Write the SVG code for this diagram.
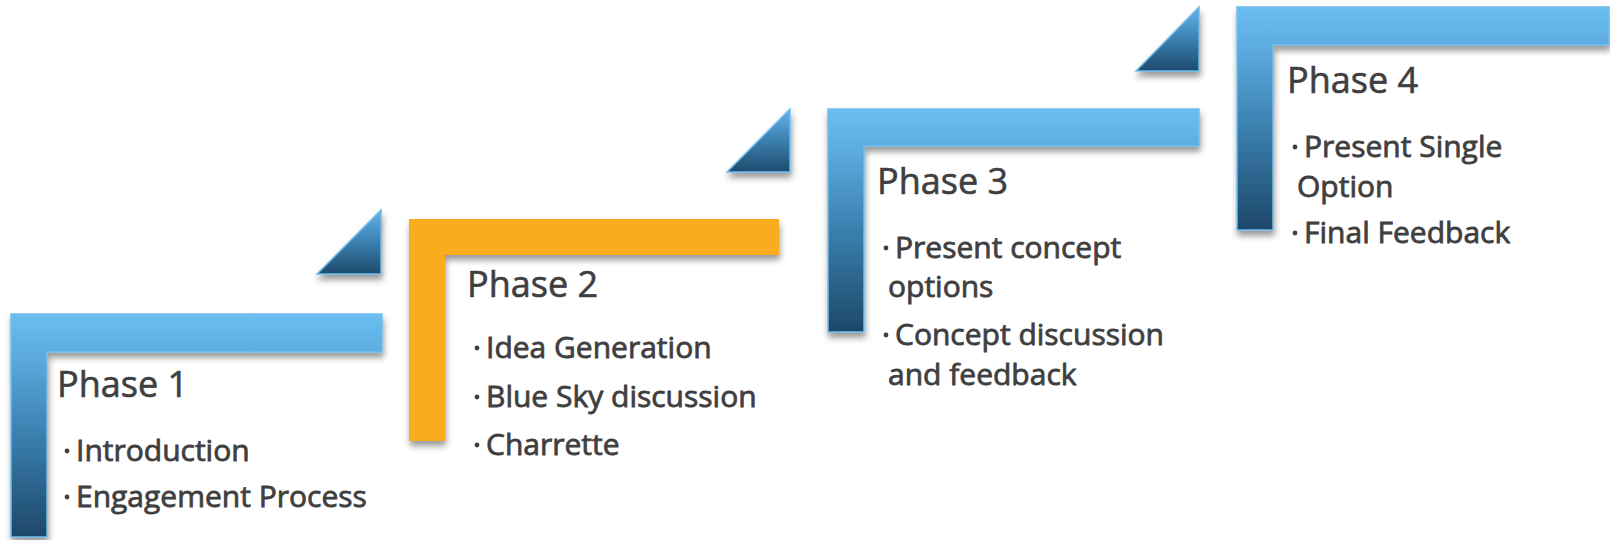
<svg xmlns="http://www.w3.org/2000/svg" width="1610" height="540" viewBox="0 0 1610 540">
  <defs>
    <linearGradient id="blueL" x1="0" y1="0" x2="0" y2="1">
      <stop offset="0" stop-color="#6bbef1"/>
      <stop offset="0.2" stop-color="#5ba9de"/>
      <stop offset="0.55" stop-color="#3a7fae"/>
      <stop offset="1" stop-color="#1d4869"/>
    </linearGradient>
    <linearGradient id="blueTri" x1="0" y1="0" x2="0" y2="1">
      <stop offset="0" stop-color="#63b4ea"/>
      <stop offset="0.5" stop-color="#3b80b0"/>
      <stop offset="1" stop-color="#1e4b6d"/>
    </linearGradient>
    <filter id="shadow" x="-10%" y="-10%" width="125%" height="130%">
      <feDropShadow dx="1" dy="5" stdDeviation="3" flood-color="#000" flood-opacity="0.4"/>
    </filter>
  </defs>
  <style>
    .blue { fill: url(#blueL); stroke: #72bdea; stroke-width: 1.5; filter: url(#shadow); }
    .orange { fill: #f9ac1d; filter: url(#shadow); }
    .tri { fill: url(#blueTri); stroke: #6fbbea; stroke-width: 1.5; filter: url(#shadow); }
    .title { font-family: "Open Sans", "Liberation Sans", sans-serif; font-size: 36px; fill: #3f3f41; stroke: #3f3f41; stroke-width: 0.6; }
    .item { font-family: "Open Sans", "Liberation Sans", sans-serif; font-size: 30px; fill: #3f3f41; stroke: #3f3f41; stroke-width: 0.8; }
    .dot { fill: #3f3f41; }
  </style>

  <rect width="1610" height="540" fill="#ffffff"/>

  <!-- step arrows between phases -->
  <g id="connectors">
    <path class="tri" d="M317 274 L381 210 L381 274 Z"/>
    <path class="tri" d="M727 172 L790 109 L790 172 Z"/>
    <path class="tri" d="M1136 71 L1199 7 L1199 71 Z"/>
  </g>

  <g id="phase1">
    <path class="blue" d="M11 314 H382 V352 H47 V537 H11 Z"/>
    <text class="title" x="57" y="397">Phase 1</text>
    <circle class="dot" cx="67" cy="451" r="2.4"/>
    <text class="item" x="76" y="461">Introduction</text>
    <circle class="dot" cx="67" cy="497" r="2.4"/>
    <text class="item" x="76" y="507">Engagement Process</text>
  </g>

  <g id="phase2">
    <path class="orange" d="M409 219 H779 V255 H445 V441 H409 Z"/>
    <text class="title" x="467" y="297">Phase 2</text>
    <circle class="dot" cx="477" cy="348" r="2.4"/>
    <text class="item" x="486" y="358">Idea Generation</text>
    <circle class="dot" cx="477" cy="397" r="2.4"/>
    <text class="item" x="486" y="407">Blue Sky discussion</text>
    <circle class="dot" cx="477" cy="445" r="2.4"/>
    <text class="item" x="486" y="455">Charrette</text>
  </g>

  <g id="phase3">
    <path class="blue" d="M828 109 H1199 V146 H864 V332 H828 Z"/>
    <text class="title" x="877" y="194">Phase 3</text>
    <circle class="dot" cx="886" cy="248" r="2.4"/>
    <text class="item" x="895" y="258">Present concept</text>
    <text class="item" x="888" y="297">options</text>
    <circle class="dot" cx="886" cy="335" r="2.4"/>
    <text class="item" x="895" y="345">Concept discussion</text>
    <text class="item" x="888" y="385">and feedback</text>
  </g>

  <g id="phase4">
    <path class="blue" d="M1237 7 H1609 V45 H1273 V230 H1237 Z"/>
    <text class="title" x="1287" y="93">Phase 4</text>
    <circle class="dot" cx="1295" cy="147" r="2.4"/>
    <text class="item" x="1304" y="157">Present Single</text>
    <text class="item" x="1297" y="197">Option</text>
    <circle class="dot" cx="1295" cy="233" r="2.4"/>
    <text class="item" x="1304" y="243">Final Feedback</text>
  </g>
</svg>
